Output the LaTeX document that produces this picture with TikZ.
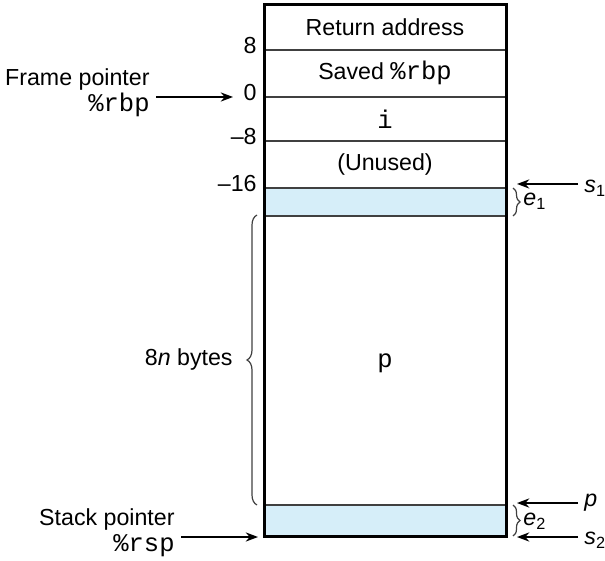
\documentclass[tikz,border=0pt]{standalone}
\usepackage{fontspec}
\setmainfont{Liberation Sans}
\setmonofont[Scale=1.1]{Liberation Mono}
\usetikzlibrary{arrows.meta,decorations.pathreplacing}
\definecolor{slotblue}{HTML}{D6EEF9}
\tikzset{
  slotline/.style={line width=0.75pt,draw=black!75},
  offlabel/.style={anchor=east,inner sep=1pt},
  bracel/.style={decorate,decoration={brace,amplitude=#1},line width=0.6pt,draw=black!75},
  ptrarrow/.style={->,line width=0.7pt}
}

\begin{document}
\begin{tikzpicture}[x=0.5pt,y=-0.5pt,>=Stealth,font=\fontsize{11.6}{13}\selectfont]
\useasboundingbox (0,0) rectangle (605,561);
% ---------- 栈帧 ----------
\fill[slotblue] (264,188) rectangle (506,216);
\fill[slotblue] (264,505) rectangle (506,536);
\foreach \y in {50,97,141,188,216,505}
  \draw[slotline] (264,\y) -- (506,\y);
\draw[line width=1.5pt] (264,5) rectangle (506,536);
% 槽内文字
\node (ret)    at (385,27)  {Return address};
\node (saved)  at (385,73)  {Saved \texttt{\%rbp}};
\node (ivar)   at (385,119) {\texttt{i}};
\node (unused) at (385,164) {(Unused)};
\node (parr)   at (385,363) {\texttt{p}};
% ---------- 偏移量 ----------
\foreach \y/\t in {50/8,97/0,141/–8,188/–16}
  \node[offlabel] (off\y) at (259,\y-4) {\t};
% ---------- 左侧指针 ----------
\node[anchor=east,align=right,inner sep=3pt] (fplbl) at (156,93)
  {Frame pointer\\\texttt{\%rbp}};
\coordinate (fphead) at (233,97);
\draw[ptrarrow] (fplbl.east |- fphead) -- (fphead);
\node[anchor=east,align=right,inner sep=3pt] (splbl) at (181,533)
  {Stack pointer\\\texttt{\%rsp}};
\coordinate (sphead) at (258,537);
\draw[ptrarrow] (splbl.east |- sphead) -- (sphead);
% 8n 字节的大括号
\draw[bracel=5pt] (257,505) -- (257,215);
\node[anchor=east,inner sep=2pt] (nbytes) at (237,360) {8\textit{n} bytes};
% ---------- 右侧 s1, e1, p, e2, s2 ----------
\draw[bracel=3.5pt] (513,188) -- (513,216);
\draw[bracel=3.5pt] (513,505) -- (513,536);
\node[anchor=west,inner sep=1pt] (e1lbl) at (521,201) {\textit{e}\textsubscript{1}};
\node[anchor=west,inner sep=1pt] (e2lbl) at (521,521) {\textit{e}\textsubscript{2}};
\node[anchor=west,inner sep=3pt] (s1lbl) at (578,188) {\textit{s}\textsubscript{1}};
\node[anchor=west,inner sep=3pt] (plbl)  at (578,503) {\textit{p}};
\node[anchor=west,inner sep=3pt] (s2lbl) at (578,540) {\textit{s}\textsubscript{2}};
\coordinate (s1head) at (517,184);
\coordinate (phead)  at (517,503);
\coordinate (s2head) at (517,537);
\draw[ptrarrow] (s1lbl.west |- s1head) -- (s1head);
\draw[ptrarrow] (plbl.west |- phead) -- (phead);
\draw[ptrarrow] (s2lbl.west |- s2head) -- (s2head);
\end{tikzpicture}
\end{document}
